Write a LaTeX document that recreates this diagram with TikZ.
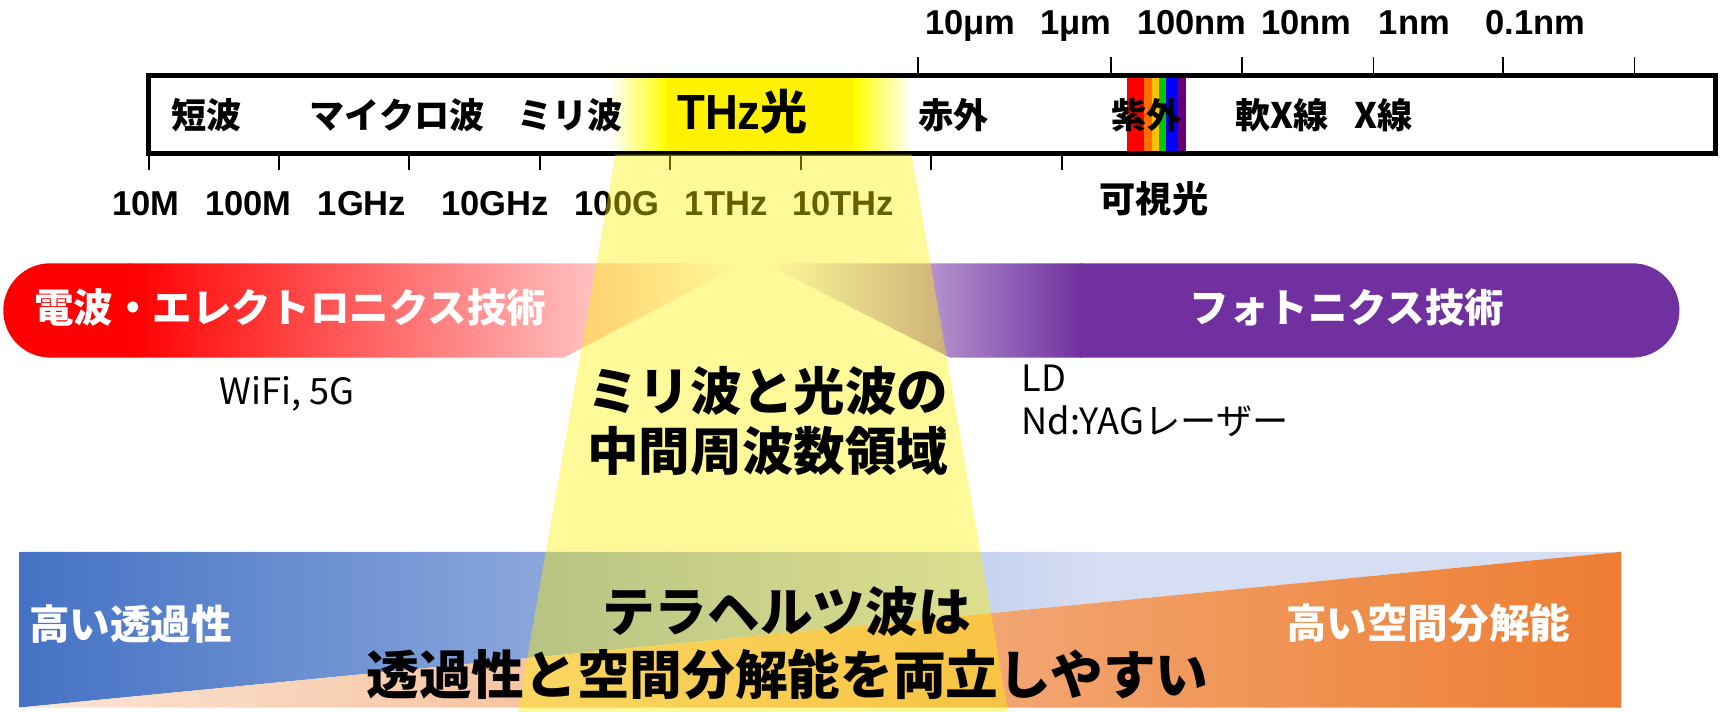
\documentclass[tikz,border=0pt]{standalone}
\usepackage{fontspec}
\usepackage{graphicx}
\setmainfont{Liberation Sans}
\newfontfamily\jp{Noto Sans CJK JP}
\newcommand\fsz[1]{\fontsize{#1}{#1}\selectfont}
\definecolor{pur}{RGB}{112,48,160}
\definecolor{bla}{RGB}{68,114,196}
\definecolor{blb}{RGB}{214,222,244}
\definecolor{ora}{RGB}{251,229,214}
\definecolor{orb}{RGB}{237,125,49}
\definecolor{rbA}{RGB}{255,0,0}
\definecolor{rbB}{RGB}{255,110,0}
\definecolor{rbC}{RGB}{255,192,0}
\definecolor{rbD}{RGB}{0,200,0}
\definecolor{rbE}{RGB}{0,0,255}
\definecolor{rbF}{RGB}{102,0,120}
\begin{document}
\begin{tikzpicture}[x=1pt,y=-1pt,
  boxlab/.style={inner sep=0pt, font=\jp\bfseries\fsz{32}},
  scalelab/.style={inner sep=0pt, anchor=base, font=\bfseries\fsz{31.5}},
  tickline/.style={line width=1.6pt},
  barlab/.style={inner sep=0pt, text=white, font=\jp\bfseries\fsz{36}},
  bottomlab/.style={inner sep=0pt, text=white, font=\jp\bfseries\fsz{37}},
  biglab/.style={inner sep=0pt, font=\jp\bfseries\fsz{47}},
  bigger/.style={inner sep=0pt, font=\jp\bfseries\fsz{48}},
  note/.style={inner sep=0pt, font=\jp\fsz{33}}]
\useasboundingbox (0,0) rectangle (1568,649);

% THz glow inside the spectrum box
\fill[yellow] (607,70) rectangle (779,138);
\shade[left color=white, right color=yellow] (556,70) rectangle (608,138);
\shade[left color=yellow, right color=white] (778,70) rectangle (832,138);

% visible-light stripes
\fill[rbA] (1027,70) rectangle (1043,138);
\fill[rbB] (1043,70) rectangle (1050,138);
\fill[rbC] (1050,70) rectangle (1056.5,138);
\fill[rbD] (1056.5,70) rectangle (1062.5,138);
\fill[rbE] (1062.5,70) rectangle (1074,138);
\fill[rbF] (1074,70) rectangle (1081,138);

% spectrum box
\draw[line width=4.3pt] (135.5,68.5) rectangle (1564,140);

% ticks
\foreach \x in {254,373,492,611,730,849,968} \draw[tickline] (\x,140) -- (\x,155);
\draw[tickline] (135.5,140) -- (135.5,155);
\foreach \x in {837,1013,1132,1252,1370,1490} \draw[tickline] (\x,52) -- (\x,68.5);

% labels in box
\node[boxlab] (sw) at (188,105) {短波};
\node[boxlab] (mw) at (362,105) {マイクロ波};
\node[boxlab] (mmw) at (520,105) {ミリ波};
\node[inner sep=0pt] (thz) at (677,102) {\scalebox{0.92}[1]{\bfseries\fsz{45}THz}{\jp\bfseries\fsz{43}光}};
\node[boxlab] (ir) at (869,105) {赤外};
\node[boxlab] (uv) at (1045.5,105) {紫外};
\node[boxlab] (sx) at (1168.5,105) {軟X線};
\node[boxlab] (xr) at (1261,105) {X線};

% frequency labels
\node[scalelab] (f1) at (133,196) {10M};
\node[scalelab] (f2) at (226.5,196) {100M};
\node[scalelab] (f3) at (330,196) {1GHz};
\node[scalelab] (f4) at (451.5,196) {10GHz};
\node[scalelab] (f5) at (562.5,196) {100G};
\node[scalelab] (f6) at (662,196) {1THz};
\node[scalelab] (f7) at (768.5,196) {10THz};
\node[boxlab, font=\jp\bfseries\fsz{33}] (vis) at (1052,181) {可視光};

% wavelength labels
\node[scalelab] (w1) at (884.5,31.5) {10μm};
\node[scalelab] (w2) at (981,31.5) {1μm};
\node[scalelab] (w3) at (1086.5,31.5) {100nm};
\node[scalelab] (w4) at (1191,31.5) {10nm};
\node[scalelab] (w5) at (1289.5,31.5) {1nm};
\node[scalelab] (w6) at (1399.5,31.5) {0.1nm};

% electronics bar
\begin{scope}
\clip (46,240) -- (678,240) -- (514,326) -- (46,326) arc[start angle=90,end angle=270,radius=43] -- cycle;
\fill[red] (0,235) rectangle (119,330);
\shade[left color=red, right color=white] (118,235) rectangle (680,330);
\end{scope}
\node[barlab] (elec) at (264.5,280) {電波・エレクトロニクス技術};

% photonics bar
\begin{scope}
\clip (697,240) -- (1488,240) arc[start angle=-90,end angle=90,radius=43] -- (866,326) -- cycle;
\shade[left color=white, right color=pur] (697,235) rectangle (986,330);
\fill[pur] (985,235) rectangle (1535,330);
\end{scope}
\node[barlab] (phot) at (1228,280) {フォトニクス技術};

% notes
\node[note, anchor=base] (wifi) at (262,369) {WiFi, 5G};
\node[note, anchor=base west] (ld) at (931,357) {LD};
\node[note, anchor=base west] (yag) at (931,396) {Nd:YAGレーザー};

% bottom band
\begin{scope}
\clip (18,503) -- (1478,503) -- (18,645) -- cycle;
\shade[left color=bla, right color=blb] (18,503) rectangle (1000,645);
\fill[blb] (999,503) rectangle (1478,645);
\end{scope}
\shade[left color=ora, right color=orb] (18,645) -- (1478,503) -- (1478,645) -- cycle;
\node[bottomlab] (pen) at (119,569) {高い透過性};
\node[bottomlab] (res) at (1302,568) {高い空間分解能};

% THz window
\fill[yellow, fill opacity=0.4] (561,141) -- (831,141) -- (919,649) -- (472,649) -- cycle;

% central texts
\node[biglab] (mid1) at (700,356) {ミリ波と光波の};
\node[biglab] (mid2) at (700,411) {中間周波数領域};
\node[bigger] (bot1) at (717,557) {テラヘルツ波は};
\node[bigger] (bot2) at (718,615) {透過性と空間分解能を両立しやすい};
\end{tikzpicture}
\end{document}
